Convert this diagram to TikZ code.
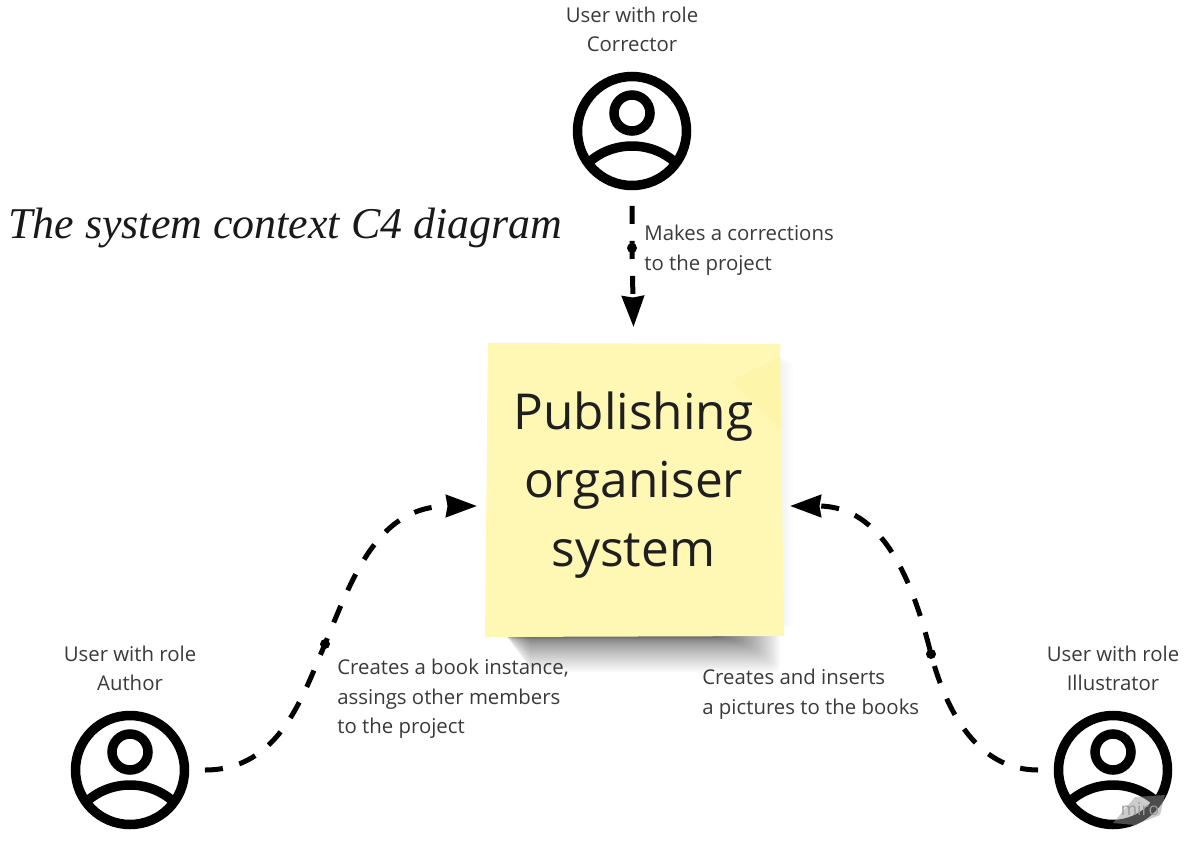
\documentclass[tikz,border=0pt]{standalone}
\usepackage{fontspec}
\setmainfont{Open Sans}
\newfontfamily\titlefont{Liberation Serif}
\usetikzlibrary{arrows.meta,positioning}
\definecolor{stickyfill}{RGB}{255,247,180}
\definecolor{stickyfold}{RGB}{253,245,170}
\definecolor{labeltext}{RGB}{58,58,58}
\tikzset{
	personicon/.style={minimum size=3cm,inner sep=0pt,outer sep=0pt},
	personline/.style={line width=0.19cm,black},
	personlabel/.style={align=center,text=labeltext,font=\fontsize{11.6}{16.7}\selectfont,inner sep=0pt},
	flowlabel/.style={align=left,text=labeltext,font=\fontsize{11.6}{16.7}\selectfont,inner sep=0pt,anchor=north west},
	flowdot/.style={circle,fill=black,minimum size=0.2cm,inner sep=0pt},
	flow/.style={line width=0.1cm,black,dash pattern=on 0.36cm off 0.34cm,-{Stealth[length=0.62cm,width=0.44cm,inset=0.03cm]}},
}
\begin{document}
\begin{tikzpicture}[x=0.02cm,y=-0.02cm]
	\useasboundingbox (0,0) rectangle (1186,842);
	%Shadow
	\foreach \i in {0,...,34}{
		\pgfmathsetmacro\shadowb{638+34*(1-\i/34)^2}
		\pgfmathsetmacro\shadowl{505+25*(1-\i/34)^2}
		\pgfmathsetmacro\shadowr{780-60*\i/34}
		\fill[black,opacity=0.025,rounded corners=3pt] (\shadowl,630) -- (\shadowr,630) -- (\shadowr,\shadowb) -- (\shadowl,\shadowb) -- cycle;
	}
	\foreach \i in {0,...,7}
		\fill[black,opacity=0.006] (770,350) -- (793-2*\i,365) -- (793-2*\i,625) -- (770,636) -- cycle;
	%Sticky note
	\fill[stickyfill] (488,343) -- (780,344) -- (784,636) -- (485,637) -- cycle;
	\fill[stickyfold] (780,357) -- (780.5,428) -- (730,381) -- cycle;
	\node[minimum width=6.26cm,minimum height=6.32cm,inner sep=0pt,outer sep=0pt,align=center,text=black!88,font=\fontsize{28.2}{39.1}\selectfont] (sticky) at (633.5,485) {Publishing\\organiser\\system};
	%Users
	\foreach \who/\cx/\cy in {corrector/632/131,author/130/770,illustrator/1113/770}{
		\node[personicon] (\who) at (\cx,\cy) {};
		\draw[personline] (\who) circle (54.5);
		\draw[personline] ([yshift=0.36cm]\who.center) circle (18);
		\draw[personline] ([shift={(-45,33)}]\who.center) .. controls +(25,-24) and +(-25,-24) .. ([shift={(45,33)}]\who.center);
	}
	\node[personlabel,above=0.07cm of corrector] (correctorlabel) {User with role\\Corrector};
	\node[personlabel,above=0.07cm of author] (authorlabel) {User with role\\Author};
	\node[personlabel,above=0.07cm of illustrator] (illustratorlabel) {User with role\\Illustrator};
	%Connectors
	\node[flowdot] (correctordot) at (632,248) {};
	\node[flowdot] (authordot) at (325,644) {};
	\node[flowdot] (illustratordot) at (931,654) {};
	\draw[flow] (corrector.south) -- (correctordot.center) -- (sticky.north);
	\draw[flow] (author.east) .. controls (280,770) and (303,695) .. (authordot.center) .. controls (355,570) and (380,506) .. ([yshift=-0.42cm]sticky.west);
	\draw[flow] (illustrator.west) .. controls (985,770) and (950,725) .. (illustratordot.center) .. controls (912,578) and (882,506) .. ([yshift=-0.42cm]sticky.east);
	\node[flowlabel] (correctorflow) at (644,225) {Makes a corrections\\to the project};
	\node[flowlabel] (authorflow) at (337,659) {Creates a book instance,\\assings other members\\to the project};
	\node[flowlabel] (illustratorflow) at (702,669) {Creates and inserts\\a pictures to the books};
	%Title
	\node[anchor=west,inner sep=0pt,text=black!90,font=\titlefont\itshape\fontsize{25}{30}\selectfont] (title) at (8,228) {The system context C4 diagram};
	%Watermark
	\fill[black!40,opacity=0.5] (1113,823) -- (1135,797) -- (1165,795) -- (1160,815) -- (1135,825) -- cycle;
	\node[inner sep=0pt,text=black!40,font=\fontsize{10}{10}\selectfont] (watermark) at (1140,809) {miro};
\end{tikzpicture}
\end{document}
